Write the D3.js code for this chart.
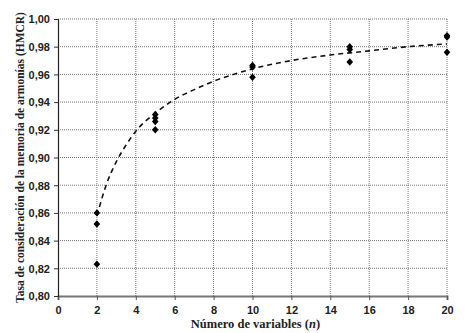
<!DOCTYPE html>
<html lang="es">
<head>
<meta charset="UTF-8">
<title>HMCR vs número de variables</title>
<script src="https://d3js.org/d3.v7.min.js"></script>
<style>
  body { margin: 0; padding: 0; background: #ffffff; }
  svg { display: block; font-family: "Liberation Serif", "Times New Roman", serif; }
  .tick text { font-weight: bold; font-size: 11px; fill: #222; }
</style>
</head>
<body>
<div id="chart"></div>
<script>
  // observed points (n, HMCR)
  const obsN = [2, 2, 2, 5, 5, 5, 5, 10, 10, 10, 15, 15, 15, 20, 20, 20];
  const obsV = [0.860, 0.852, 0.823, 0.931, 0.9285, 0.926, 0.920, 0.9665, 0.9654, 0.958,
                0.980, 0.978, 0.969, 0.988, 0.987, 0.976];

  // dashed trend curve
  const trendN = [2, 2.5, 3, 3.5, 4, 5, 6, 7, 8, 10, 12, 14, 16, 18, 20];
  const trendV = [0.858, 0.881, 0.897, 0.909, 0.919, 0.932, 0.942, 0.949, 0.955, 0.964, 0.970, 0.974, 0.977, 0.980, 0.982];

  const xTicks = [0, 2, 4, 6, 8, 10, 12, 14, 16, 18, 20];
  const yTicks = [0.80, 0.82, 0.84, 0.86, 0.88, 0.90, 0.92, 0.94, 0.96, 0.98, 1.00];

  const width = 466, height = 333;
  const margin = {top: 19, right: 19, bottom: 37, left: 58};

  const svg = d3.select("#chart").append("svg")
      .attr("width", width)
      .attr("height", height);

  const x = d3.scaleLinear().domain([0, 20]).range([margin.left, width - margin.right]);
  const y = d3.scaleLinear().domain([0.80, 1.00]).range([height - margin.bottom, margin.top]);

  const fmt = d => d3.format(".2f")(d).replace(".", ",");

  // grid
  const grid = svg.append("g").attr("stroke", "#777").attr("stroke-dasharray", "1,1");
  grid.selectAll("line.v").data(xTicks.slice(1)).join("line")
      .attr("x1", d => x(d)).attr("x2", d => x(d))
      .attr("y1", y(0.80)).attr("y2", y(1.00));
  grid.selectAll("line.h").data(yTicks.slice(1)).join("line")
      .attr("x1", x(0)).attr("x2", x(20))
      .attr("y1", d => y(d)).attr("y2", d => y(d));

  // axes
  const xAxis = svg.append("g")
      .attr("transform", `translate(0,${y(0.80)})`)
      .call(d3.axisBottom(x).tickValues(xTicks).tickSize(4).tickPadding(6).tickFormat(d3.format("d")));
  xAxis.select(".domain").attr("stroke", "#777").attr("stroke-width", 2);
  xAxis.selectAll(".tick line").attr("stroke", "#555");

  const yAxis = svg.append("g")
      .attr("transform", `translate(${x(0)},0)`)
      .call(d3.axisLeft(y).tickValues(yTicks).tickSize(4).tickPadding(4).tickFormat(fmt));
  yAxis.select(".domain").attr("stroke", "#222").attr("stroke-width", 1.2);
  yAxis.selectAll(".tick line").attr("stroke", "#333");
  yAxis.selectAll(".tick text").attr("dy", "0.35em");

  // trend line
  const trend = trendN.map((n, i) => [n, trendV[i]]);
  svg.append("path")
      .datum(trend)
      .attr("fill", "none")
      .attr("stroke", "#111")
      .attr("stroke-width", 1.6)
      .attr("stroke-dasharray", "5,4")
      .attr("d", d3.line().x(d => x(d[0])).y(d => y(d[1])).curve(d3.curveMonotoneX));

  // markers: small diamonds
  const diamond = d3.symbol().type(d3.symbolSquare).size(22);
  svg.append("g").selectAll("path")
      .data(obsN.map((n, i) => [n, obsV[i]]))
      .join("path")
      .attr("d", diamond)
      .attr("transform", d => `translate(${x(d[0])},${y(d[1])}) scale(1,1.12) rotate(45)`)
      .attr("fill", "#000");

  // axis titles
  const xt = svg.append("text")
      .attr("x", (x(0) + x(20)) / 2 + 3)
      .attr("y", height - 5)
      .attr("text-anchor", "middle")
      .attr("font-weight", "bold")
      .attr("font-size", "12.5px")
      .attr("fill", "#222");
  xt.append("tspan").text("Número de variables (");
  xt.append("tspan").attr("font-style", "italic").text("n");
  xt.append("tspan").text(")");

  svg.append("text")
      .attr("transform", `translate(24,${(y(0.80) + y(1.00)) / 2}) rotate(-90)`)
      .attr("text-anchor", "middle")
      .attr("font-weight", "bold")
      .attr("font-size", "11.5px")
      .attr("fill", "#222")
      .text("Tasa de consideración de la memoria de armonías (HMCR)");
</script>
</body>
</html>
